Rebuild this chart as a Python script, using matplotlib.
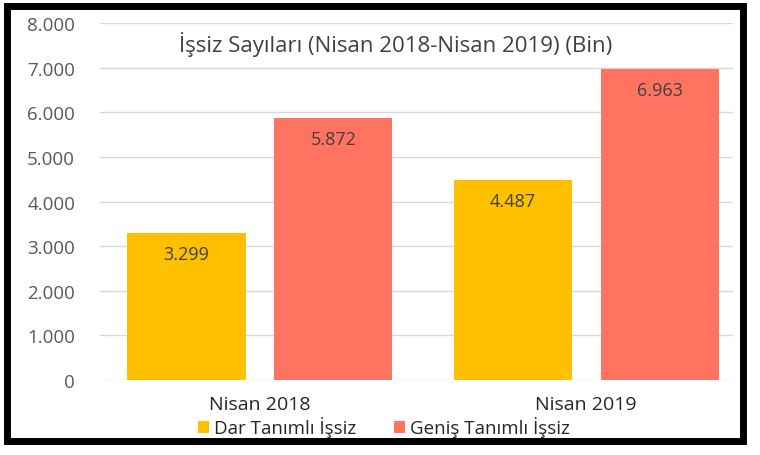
import matplotlib.pyplot as plt
from matplotlib.patches import Rectangle

categories = ["Nisan 2018", "Nisan 2019"]
dar = [3299, 4487]
genis = [5872, 6963]
series_names = ["Dar Tanımlı İşsiz", "Geniş Tanımlı İşsiz"]
yticks = [0, 1000, 2000, 3000, 4000, 5000, 6000, 7000, 8000]
ytick_labels = ["0", "1.000", "2.000", "3.000", "4.000", "5.000", "6.000", "7.000", "8.000"]
title = "İşsiz Sayıları (Nisan 2018-Nisan 2019) (Bin)"

plt.rcParams["font.family"] = ["Open Sans", "DejaVu Sans"]

fig = plt.figure(figsize=(7.6, 4.56), dpi=100)
ax = fig.add_axes([0.1316, 0.1645, 0.833, 0.7825])

x = range(len(categories))
w = 0.362
off = 0.225
b1 = ax.bar([i - off for i in x], dar, width=w, color="#FFC000", label=series_names[0], zorder=3)
b2 = ax.bar([i + off for i in x], genis, width=w, color="#FF7360", label=series_names[1], zorder=3)

def fmt(v):
    return f"{v:,}".replace(",", ".")

for bars, vals in [(b1, dar), (b2, genis)]:
    for rect, v in zip(bars, vals):
        ax.annotate(fmt(v), (rect.get_x() + rect.get_width() / 2, v),
                    xytext=(0, -21), textcoords="offset pixels",
                    ha="center", va="center", fontsize=13, color="#404040", zorder=4)

ax.set_xlim(-0.49, 1.45)
ax.set_ylim(0, 8000)
ax.set_yticks(yticks)
ax.set_yticklabels(ytick_labels, fontsize=13.5, color="#595959")
ax.set_xticks(list(x))
ax.set_xticklabels(categories, fontsize=14, color="#262626")
ax.tick_params(axis="both", length=0)
ax.tick_params(axis="y", pad=18)
ax.tick_params(axis="x", pad=11)
ax.grid(axis="y", color="#D9D9D9", linewidth=1, zorder=0)
for s in ax.spines.values():
    s.set_visible(False)

fig.text(0.52, 0.903, title, ha="center", va="center", fontsize=16, color="#404040")

fig.legend(loc="center", bbox_to_anchor=(0.505, 0.062), ncol=2, frameon=False,
           fontsize=13.5, handlelength=0.6, handleheight=0.6, handletextpad=0.25,
           columnspacing=2.0, labelcolor="#262626")

fig.patches.append(Rectangle((0.009, 0.03), 0.969, 0.955, transform=fig.transFigure,
                             fill=False, edgecolor="black", linewidth=5, zorder=10))

fig.savefig("out.png", dpi=100)
